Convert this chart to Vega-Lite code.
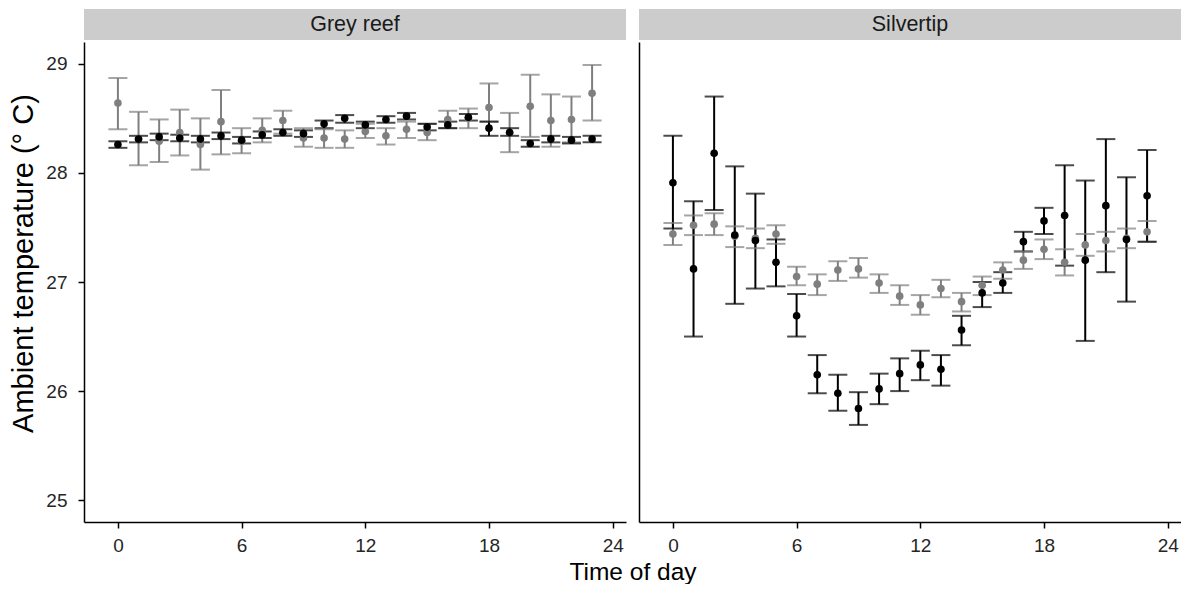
{
  "$schema": "https://vega.github.io/schema/vega-lite/v6.json",
  "autosize": {"type": "pad"},
  "padding": {"left": 9, "top": 9, "right": 0, "bottom": 0},
  "background": "white",
  "datasets": {
    "strips": [{"shark": "Grey reef"}, {"shark": "Silvertip"}],
    "temps": [
      {"shark":"Grey reef","series":"A","hour":0,"mean":28.64,"lo":28.40,"hi":28.87},
      {"shark":"Grey reef","series":"A","hour":1,"mean":28.31,"lo":28.07,"hi":28.56},
      {"shark":"Grey reef","series":"A","hour":2,"mean":28.29,"lo":28.10,"hi":28.49},
      {"shark":"Grey reef","series":"A","hour":3,"mean":28.37,"lo":28.16,"hi":28.58},
      {"shark":"Grey reef","series":"A","hour":4,"mean":28.26,"lo":28.03,"hi":28.50},
      {"shark":"Grey reef","series":"A","hour":5,"mean":28.47,"lo":28.17,"hi":28.76},
      {"shark":"Grey reef","series":"A","hour":6,"mean":28.29,"lo":28.18,"hi":28.41},
      {"shark":"Grey reef","series":"A","hour":7,"mean":28.39,"lo":28.28,"hi":28.50},
      {"shark":"Grey reef","series":"A","hour":8,"mean":28.48,"lo":28.36,"hi":28.57},
      {"shark":"Grey reef","series":"A","hour":9,"mean":28.32,"lo":28.24,"hi":28.41},
      {"shark":"Grey reef","series":"A","hour":10,"mean":28.32,"lo":28.23,"hi":28.40},
      {"shark":"Grey reef","series":"A","hour":11,"mean":28.31,"lo":28.23,"hi":28.39},
      {"shark":"Grey reef","series":"A","hour":12,"mean":28.38,"lo":28.32,"hi":28.45},
      {"shark":"Grey reef","series":"A","hour":13,"mean":28.34,"lo":28.26,"hi":28.41},
      {"shark":"Grey reef","series":"A","hour":14,"mean":28.40,"lo":28.32,"hi":28.47},
      {"shark":"Grey reef","series":"A","hour":15,"mean":28.37,"lo":28.30,"hi":28.45},
      {"shark":"Grey reef","series":"A","hour":16,"mean":28.49,"lo":28.41,"hi":28.57},
      {"shark":"Grey reef","series":"A","hour":17,"mean":28.50,"lo":28.41,"hi":28.59},
      {"shark":"Grey reef","series":"A","hour":18,"mean":28.60,"lo":28.47,"hi":28.82},
      {"shark":"Grey reef","series":"A","hour":19,"mean":28.37,"lo":28.19,"hi":28.55},
      {"shark":"Grey reef","series":"A","hour":20,"mean":28.61,"lo":28.33,"hi":28.90},
      {"shark":"Grey reef","series":"A","hour":21,"mean":28.48,"lo":28.24,"hi":28.72},
      {"shark":"Grey reef","series":"A","hour":22,"mean":28.49,"lo":28.28,"hi":28.70},
      {"shark":"Grey reef","series":"A","hour":23,"mean":28.73,"lo":28.48,"hi":28.99},
      {"shark":"Grey reef","series":"B","hour":0,"mean":28.26,"lo":28.23,"hi":28.29},
      {"shark":"Grey reef","series":"B","hour":1,"mean":28.31,"lo":28.28,"hi":28.34},
      {"shark":"Grey reef","series":"B","hour":2,"mean":28.33,"lo":28.30,"hi":28.36},
      {"shark":"Grey reef","series":"B","hour":3,"mean":28.32,"lo":28.29,"hi":28.35},
      {"shark":"Grey reef","series":"B","hour":4,"mean":28.31,"lo":28.28,"hi":28.34},
      {"shark":"Grey reef","series":"B","hour":5,"mean":28.34,"lo":28.31,"hi":28.37},
      {"shark":"Grey reef","series":"B","hour":6,"mean":28.30,"lo":28.27,"hi":28.33},
      {"shark":"Grey reef","series":"B","hour":7,"mean":28.35,"lo":28.32,"hi":28.38},
      {"shark":"Grey reef","series":"B","hour":8,"mean":28.37,"lo":28.34,"hi":28.40},
      {"shark":"Grey reef","series":"B","hour":9,"mean":28.36,"lo":28.33,"hi":28.39},
      {"shark":"Grey reef","series":"B","hour":10,"mean":28.45,"lo":28.41,"hi":28.48},
      {"shark":"Grey reef","series":"B","hour":11,"mean":28.50,"lo":28.46,"hi":28.53},
      {"shark":"Grey reef","series":"B","hour":12,"mean":28.44,"lo":28.41,"hi":28.47},
      {"shark":"Grey reef","series":"B","hour":13,"mean":28.49,"lo":28.46,"hi":28.52},
      {"shark":"Grey reef","series":"B","hour":14,"mean":28.52,"lo":28.49,"hi":28.55},
      {"shark":"Grey reef","series":"B","hour":15,"mean":28.42,"lo":28.39,"hi":28.45},
      {"shark":"Grey reef","series":"B","hour":16,"mean":28.44,"lo":28.41,"hi":28.47},
      {"shark":"Grey reef","series":"B","hour":17,"mean":28.51,"lo":28.48,"hi":28.54},
      {"shark":"Grey reef","series":"B","hour":18,"mean":28.41,"lo":28.34,"hi":28.47},
      {"shark":"Grey reef","series":"B","hour":19,"mean":28.37,"lo":28.34,"hi":28.41},
      {"shark":"Grey reef","series":"B","hour":20,"mean":28.27,"lo":28.24,"hi":28.30},
      {"shark":"Grey reef","series":"B","hour":21,"mean":28.31,"lo":28.28,"hi":28.34},
      {"shark":"Grey reef","series":"B","hour":22,"mean":28.30,"lo":28.27,"hi":28.33},
      {"shark":"Grey reef","series":"B","hour":23,"mean":28.31,"lo":28.28,"hi":28.34},
      {"shark":"Silvertip","series":"A","hour":0,"mean":27.44,"lo":27.34,"hi":27.54},
      {"shark":"Silvertip","series":"A","hour":1,"mean":27.52,"lo":27.43,"hi":27.61},
      {"shark":"Silvertip","series":"A","hour":2,"mean":27.53,"lo":27.43,"hi":27.63},
      {"shark":"Silvertip","series":"A","hour":3,"mean":27.42,"lo":27.32,"hi":27.51},
      {"shark":"Silvertip","series":"A","hour":4,"mean":27.40,"lo":27.31,"hi":27.49},
      {"shark":"Silvertip","series":"A","hour":5,"mean":27.44,"lo":27.35,"hi":27.52},
      {"shark":"Silvertip","series":"A","hour":6,"mean":27.05,"lo":26.97,"hi":27.14},
      {"shark":"Silvertip","series":"A","hour":7,"mean":26.98,"lo":26.88,"hi":27.07},
      {"shark":"Silvertip","series":"A","hour":8,"mean":27.11,"lo":27.01,"hi":27.19},
      {"shark":"Silvertip","series":"A","hour":9,"mean":27.12,"lo":27.04,"hi":27.22},
      {"shark":"Silvertip","series":"A","hour":10,"mean":26.99,"lo":26.90,"hi":27.07},
      {"shark":"Silvertip","series":"A","hour":11,"mean":26.87,"lo":26.79,"hi":26.97},
      {"shark":"Silvertip","series":"A","hour":12,"mean":26.79,"lo":26.70,"hi":26.88},
      {"shark":"Silvertip","series":"A","hour":13,"mean":26.94,"lo":26.86,"hi":27.02},
      {"shark":"Silvertip","series":"A","hour":14,"mean":26.82,"lo":26.73,"hi":26.90},
      {"shark":"Silvertip","series":"A","hour":15,"mean":26.97,"lo":26.88,"hi":27.05},
      {"shark":"Silvertip","series":"A","hour":16,"mean":27.11,"lo":27.03,"hi":27.18},
      {"shark":"Silvertip","series":"A","hour":17,"mean":27.20,"lo":27.12,"hi":27.28},
      {"shark":"Silvertip","series":"A","hour":18,"mean":27.30,"lo":27.21,"hi":27.39},
      {"shark":"Silvertip","series":"A","hour":19,"mean":27.18,"lo":27.06,"hi":27.30},
      {"shark":"Silvertip","series":"A","hour":20,"mean":27.34,"lo":27.24,"hi":27.44},
      {"shark":"Silvertip","series":"A","hour":21,"mean":27.38,"lo":27.28,"hi":27.46},
      {"shark":"Silvertip","series":"A","hour":22,"mean":27.40,"lo":27.31,"hi":27.49},
      {"shark":"Silvertip","series":"A","hour":23,"mean":27.46,"lo":27.37,"hi":27.56},
      {"shark":"Silvertip","series":"B","hour":0,"mean":27.91,"lo":27.49,"hi":28.34},
      {"shark":"Silvertip","series":"B","hour":1,"mean":27.12,"lo":26.50,"hi":27.74},
      {"shark":"Silvertip","series":"B","hour":2,"mean":28.18,"lo":27.66,"hi":28.70},
      {"shark":"Silvertip","series":"B","hour":3,"mean":27.43,"lo":26.80,"hi":28.06},
      {"shark":"Silvertip","series":"B","hour":4,"mean":27.38,"lo":26.94,"hi":27.81},
      {"shark":"Silvertip","series":"B","hour":5,"mean":27.18,"lo":26.96,"hi":27.39},
      {"shark":"Silvertip","series":"B","hour":6,"mean":26.69,"lo":26.50,"hi":26.89},
      {"shark":"Silvertip","series":"B","hour":7,"mean":26.15,"lo":25.98,"hi":26.33},
      {"shark":"Silvertip","series":"B","hour":8,"mean":25.98,"lo":25.82,"hi":26.15},
      {"shark":"Silvertip","series":"B","hour":9,"mean":25.84,"lo":25.69,"hi":25.99},
      {"shark":"Silvertip","series":"B","hour":10,"mean":26.02,"lo":25.88,"hi":26.16},
      {"shark":"Silvertip","series":"B","hour":11,"mean":26.16,"lo":26.00,"hi":26.30},
      {"shark":"Silvertip","series":"B","hour":12,"mean":26.24,"lo":26.10,"hi":26.37},
      {"shark":"Silvertip","series":"B","hour":13,"mean":26.20,"lo":26.05,"hi":26.33},
      {"shark":"Silvertip","series":"B","hour":14,"mean":26.56,"lo":26.42,"hi":26.69},
      {"shark":"Silvertip","series":"B","hour":15,"mean":26.90,"lo":26.77,"hi":27.00},
      {"shark":"Silvertip","series":"B","hour":16,"mean":26.99,"lo":26.90,"hi":27.09},
      {"shark":"Silvertip","series":"B","hour":17,"mean":27.37,"lo":27.28,"hi":27.46},
      {"shark":"Silvertip","series":"B","hour":18,"mean":27.56,"lo":27.44,"hi":27.68},
      {"shark":"Silvertip","series":"B","hour":19,"mean":27.61,"lo":27.15,"hi":28.07},
      {"shark":"Silvertip","series":"B","hour":20,"mean":27.20,"lo":26.46,"hi":27.93},
      {"shark":"Silvertip","series":"B","hour":21,"mean":27.70,"lo":27.09,"hi":28.31},
      {"shark":"Silvertip","series":"B","hour":22,"mean":27.39,"lo":26.82,"hi":27.96},
      {"shark":"Silvertip","series":"B","hour":23,"mean":27.79,"lo":27.37,"hi":28.21}
    ]
  },
  "columns": 2,
  "bounds": "flush",
  "spacing": {"row": 2, "column": 13},
  "concat": [
    {
      "width": 542, "height": 31,
      "data": {"name": "strips"},
      "transform": [{"filter": "datum.shark === 'Grey reef'"}],
      "view": {"fill": "#CCCCCC", "stroke": null},
      "mark": {"type": "text", "fontSize": 21.5, "color": "#1A1A1A", "baseline": "middle", "align": "center"},
      "encoding": {"text": {"field": "shark", "type": "nominal"}}
    },
    {
      "width": 542, "height": 31,
      "data": {"name": "strips"},
      "transform": [{"filter": "datum.shark === 'Silvertip'"}],
      "view": {"fill": "#CCCCCC", "stroke": null},
      "mark": {"type": "text", "fontSize": 21.5, "color": "#1A1A1A", "baseline": "middle", "align": "center"},
      "encoding": {"text": {"field": "shark", "type": "nominal"}}
    },
    {
      "width": 542, "height": 480,
      "data": {"name": "temps"},
      "transform": [{"filter": "datum.shark === 'Grey reef'"}],
      "encoding": {
        "x": {"field": "hour", "type": "quantitative",
          "scale": {"domain": [-1.645, 24.645], "nice": false, "zero": false},
          "axis": {"values": [0, 6, 12, 18, 24], "format": "d", "title": "Time of day", "titleX": 548.5, "titleY": 38, "titleBaseline": "top", "titleAlign": "center"}},
        "color": {"field": "series", "type": "nominal", "scale": {"domain": ["A", "B"], "range": ["#7F7F7F", "#000000"]}, "legend": null}
      },
      "layer": [
        {"mark": {"type": "rule", "strokeWidth": 2},
         "encoding": {
           "y": {"field": "lo", "type": "quantitative",
             "scale": {"domain": [24.8, 29.2], "nice": false, "zero": false},
             "axis": {"values": [25, 26, 27, 28, 29], "format": "d", "title": "Ambient temperature (° C)", "titleFontSize": 29, "titleX": -46, "titleY": 221, "titleAlign": "center", "titleBaseline": "bottom", "labelPadding": 11}},
           "y2": {"field": "hi"}}},
        {"mark": {"type": "tick", "orient": "horizontal", "size": 19, "thickness": 2},
         "encoding": {"y": {"field": "lo", "type": "quantitative"}}},
        {"mark": {"type": "tick", "orient": "horizontal", "size": 19, "thickness": 2},
         "encoding": {"y": {"field": "hi", "type": "quantitative"}}},
        {"mark": {"type": "point", "filled": true, "size": 58, "opacity": 1},
         "encoding": {"y": {"field": "mean", "type": "quantitative"}}}
      ]
    },
    {
      "width": 542, "height": 480,
      "data": {"name": "temps"},
      "transform": [{"filter": "datum.shark === 'Silvertip'"}],
      "encoding": {
        "x": {"field": "hour", "type": "quantitative",
          "scale": {"domain": [-1.645, 24.645], "nice": false, "zero": false},
          "axis": {"values": [0, 6, 12, 18, 24], "format": "d", "title": null}},
        "color": {"field": "series", "type": "nominal", "scale": {"domain": ["A", "B"], "range": ["#7F7F7F", "#000000"]}, "legend": null}
      },
      "layer": [
        {"mark": {"type": "rule", "strokeWidth": 2},
         "encoding": {
           "y": {"field": "lo", "type": "quantitative",
             "scale": {"domain": [24.8, 29.2], "nice": false, "zero": false},
             "axis": {"values": [25, 26, 27, 28, 29], "title": null, "ticks": false, "labels": false}},
           "y2": {"field": "hi"}}},
        {"mark": {"type": "tick", "orient": "horizontal", "size": 19, "thickness": 2},
         "encoding": {"y": {"field": "lo", "type": "quantitative"}}},
        {"mark": {"type": "tick", "orient": "horizontal", "size": 19, "thickness": 2},
         "encoding": {"y": {"field": "hi", "type": "quantitative"}}},
        {"mark": {"type": "point", "filled": true, "size": 58, "opacity": 1},
         "encoding": {"y": {"field": "mean", "type": "quantitative"}}}
      ]
    }
  ],
  "config": {
    "font": "Liberation Sans",
    "view": {"stroke": null},
    "axis": {
      "grid": false,
      "domainColor": "#000000",
      "domainWidth": 1.5,
      "tickColor": "#000000",
      "tickWidth": 1.5,
      "tickSize": 6,
      "labelColor": "#262626",
      "labelFontSize": 19,
      "labelPadding": 8,
      "titleColor": "#000000",
      "titleFontWeight": "normal",
      "titleFontSize": 24.5
    }
  }
}
